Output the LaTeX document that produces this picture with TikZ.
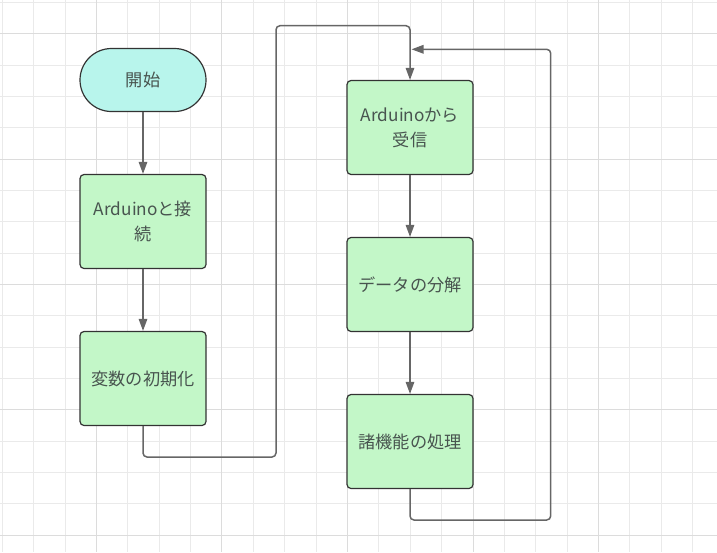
\documentclass[tikz,border=0pt]{standalone}
\usepackage{fontspec}
\setmainfont{Noto Sans CJK JP}
\usetikzlibrary{arrows.meta,positioning}
\definecolor{procfill}{HTML}{C3F7C8}
\definecolor{termfill}{HTML}{B8F5EC}
\definecolor{boxline}{HTML}{333333}
\definecolor{linec}{HTML}{666666}
\definecolor{txt}{HTML}{48544F}
\definecolor{gridminor}{HTML}{EAEAEA}
\definecolor{gridmajor}{HTML}{DCDCDC}

\begin{document}
\begin{tikzpicture}[x=1pt,y=-1pt,>={Triangle[length=12pt,width=8.5pt]},node distance=61.8pt]
\tikzstyle{process}=[draw=boxline, fill=procfill, rounded corners=4pt, line width=1.2pt, minimum width=126pt, minimum height=94pt, inner sep=0pt, align=center, text=txt, font=\fontsize{17.2}{25}\selectfont]
\tikzstyle{terminal}=[process, fill=termfill, minimum height=63pt, rounded corners=31.5pt]
\tikzstyle{flow}=[->, draw=linec, line width=1.5pt, rounded corners=4pt]
\useasboundingbox (0,0) rectangle (717,552);
% grid
\foreach \i in {0,...,22} \draw[gridminor, line width=1pt] ({2.3+31.38*\i},0) -- ({2.3+31.38*\i},552);
\foreach \j in {0,...,17} \draw[gridminor, line width=1pt] (0,{2.4+31.33*\j}) -- (717,{2.4+31.33*\j});
\foreach \i in {3,7,...,19} \draw[gridmajor, line width=1pt] ({2.3+31.38*\i},0) -- ({2.3+31.38*\i},552);
\foreach \j in {1,5,...,17} \draw[gridmajor, line width=1pt] (0,{2.4+31.33*\j}) -- (717,{2.4+31.33*\j});

\node[terminal] (start) at (143,80) {開始};
\node[process, below=of start] (connect) {Arduinoと接\\続};
\node[process, below=of connect] (init) {変数の初期化};
\node[process] (recv) at (410,127.5) {Arduinoから\\受信};
\node[process, below=of recv] (split) {データの分解};
\node[process, below=of split] (proc) {諸機能の処理};

\coordinate (jumpB) at (276,457);
\coordinate (jumpT) at (410,25.7);
\coordinate (backB) at (550.7,520);
\coordinate (backT) at (411.5,49.3);

\draw[flow] (start) -- (connect);
\draw[flow] (connect) -- (init);
\draw[flow] (init.south) |- (jumpB) |- (jumpT) -- (recv.north);
\draw[flow] (recv) -- (split);
\draw[flow] (split) -- (proc);
\draw[flow] (proc.south) |- (backB) |- (backT);
\end{tikzpicture}
\end{document}
